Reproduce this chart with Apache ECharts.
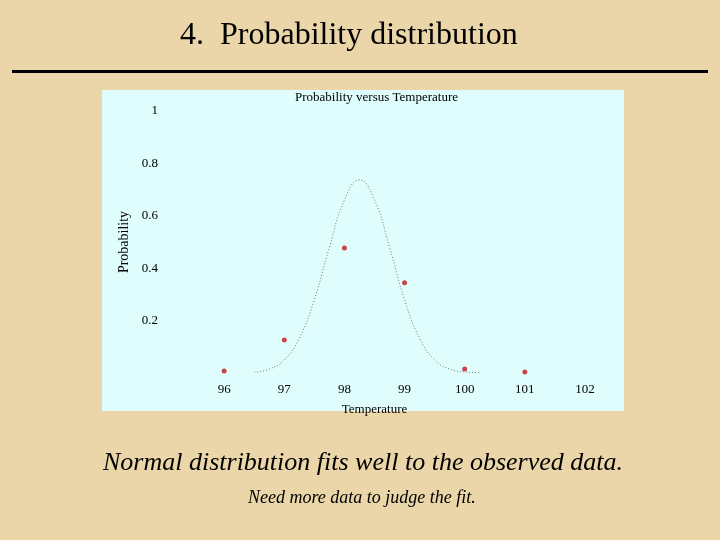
<!DOCTYPE html><html><head><meta charset="utf-8"><script src="https://cdn.jsdelivr.net/npm/echarts@6/dist/echarts.min.js"></script>
<style>html,body{margin:0;background:#ead6a8}#c{width:720px;height:540px}</style></head><body><div id="c"></div><script>
const obsTemp=[96,97,98,99,100,101];
const obsProb=[0.008,0.126,0.477,0.344,0.015,0.004];
const fitTemp=[96.5,96.75,97,97.25,97.5,97.75,98,98.25,98.5,98.75,99,99.25,99.5,99.75,100,100.25];
const fitProb=[0.003,0.015,0.05,0.133,0.28,0.48,0.66,0.737,0.66,0.48,0.28,0.133,0.05,0.015,0.004,0.001];
const xTicks=[96,97,98,99,100,101,102];
const yTicks=[0.2,0.4,0.6,0.8,1];
const serif='"Liberation Serif", "DejaVu Serif", serif';
const chart=echarts.init(document.getElementById('c'));
chart.setOption({
 backgroundColor:'#ead6a8',
 graphic:[
  {type:'rect',z:-10,shape:{x:102,y:90,width:522,height:321},style:{fill:'#e0fdfd'}},
  {type:'rect',shape:{x:12,y:70,width:696,height:3},style:{fill:'#000'}},
  {type:'text',left:180,top:20,style:{text:'4.  Probability distribution',font:'32px '+serif,fill:'#000'}},
  {type:'text',left:103,top:450,style:{text:'Normal distribution fits well to the observed data.',font:'italic 26px '+serif,fill:'#000'}},
  {type:'text',left:248,top:489,style:{text:'Need more data to judge the fit.',font:'italic 18px '+serif,fill:'#000'}},
  {type:'text',left:295,top:91,style:{text:'Probability versus Temperature',font:'13px '+serif,fill:'#000'}}
 ],
 grid:{left:164,right:135,top:111,bottom:167},
 xAxis:{type:'value',min:95,max:102,interval:1,name:'Temperature',nameLocation:'middle',nameGap:30,
  nameTextStyle:{fontFamily:serif,fontSize:13,color:'#000'},
  axisLine:{show:false},axisTick:{show:false},splitLine:{show:false},
  axisLabel:{fontFamily:serif,fontSize:13,color:'#000',margin:10,formatter:v=>xTicks.includes(v)?String(v):''}},
 yAxis:{type:'value',min:0,max:1,interval:0.2,name:'Probability',nameLocation:'middle',nameGap:33,
  nameTextStyle:{fontFamily:serif,fontSize:14,color:'#000'},
  axisLine:{show:false},axisTick:{show:false},splitLine:{show:false},
  axisLabel:{fontFamily:serif,fontSize:13,color:'#000',margin:6,formatter:v=>yTicks.some(t=>Math.abs(t-v)<1e-6)?String(+v.toFixed(1)):''}},
 series:[
  {type:'line',smooth:true,symbol:'none',data:fitTemp.map((t,i)=>[t,fitProb[i]]),lineStyle:{color:'#6a7a7a',width:1,type:[1,2]}},
  {type:'scatter',symbolSize:5,data:obsTemp.map((t,i)=>[t,obsProb[i]]),itemStyle:{color:'#c4161c'}}
 ]
});
</script></body></html>
